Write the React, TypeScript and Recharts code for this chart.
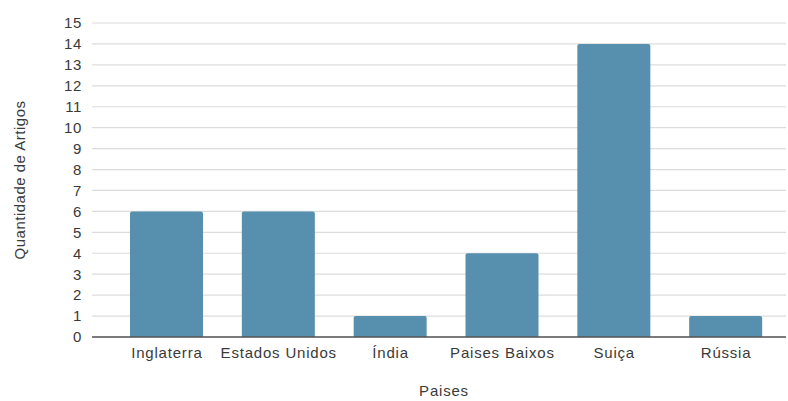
import { BarChart, Bar, XAxis, YAxis, CartesianGrid } from "recharts";

// Países e quantidade de artigos
const paises = ["Inglaterra", "Estados Unidos", "Índia", "Paises Baixos", "Suiça", "Rússia"];
const artigos = [6, 6, 1, 4, 14, 1];
const yTicks = [0, 1, 2, 3, 4, 5, 6, 7, 8, 9, 10, 11, 12, 13, 14, 15];

const FONT = "'Liberation Sans', Arial, sans-serif";
const TEXT = "#3a3a3a";

export default function App() {
  const chartData = paises.map((p, i) => ({ pais: p, artigos: artigos[i] }));

  return (
    <div style={{ position: "absolute", left: 0, top: 0, background: "#fff" }}>
      <BarChart
        width={788}
        height={401}
        data={chartData}
        margin={{ top: 23, right: 2, left: 0, bottom: 0 }}
      >
        <CartesianGrid vertical={false} stroke="#dcdcdc" strokeWidth={1.2} />
        <XAxis
          dataKey="pais"
          height={64}
          padding={{ left: 19, right: 4 }}
          tickLine={false}
          axisLine={{ stroke: "#555", strokeWidth: 1.6 }}
          tickMargin={4}
          interval={0}
          tick={{ fontSize: 15, fill: TEXT, fontFamily: FONT, letterSpacing: 0.8 }}
          label={{
            value: "Paises",
            position: "insideBottom",
            offset: 5,
            dx: 5,
            style: { fontSize: 15, fill: TEXT, fontFamily: FONT, letterSpacing: 0.8 },
          }}
        />
        <YAxis
          width={92}
          domain={[0, 15]}
          ticks={yTicks}
          interval={0}
          tickLine={false}
          axisLine={false}
          tickMargin={4}
          tick={{ fontSize: 15, fill: TEXT, fontFamily: FONT, letterSpacing: 0.6 }}
          label={{
            value: "Quantidade de Artigos",
            angle: -90,
            position: "center",
            dx: -26,
            style: { fontSize: 15, fill: TEXT, fontFamily: FONT, letterSpacing: 0.5, textAnchor: "middle" },
          }}
        />
        <Bar
          dataKey="artigos"
          fill="#5690ae"
          barSize={73}
          radius={[2, 2, 0, 0]}
          isAnimationActive={false}
        />
      </BarChart>
    </div>
  );
}
